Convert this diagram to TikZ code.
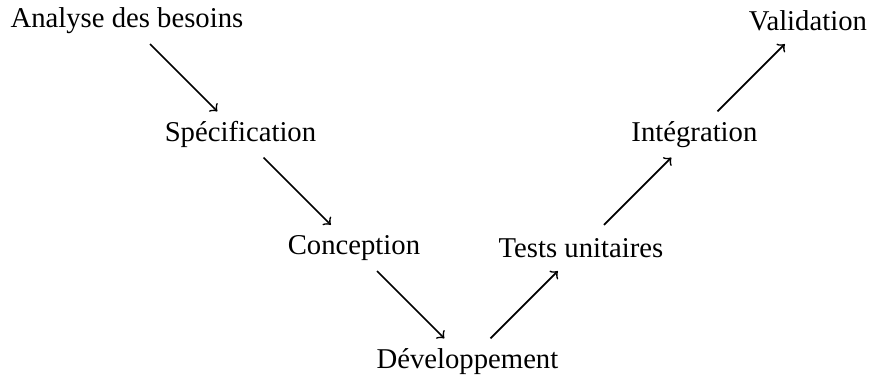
\documentclass[tikz,border=0pt]{standalone}
\usepackage{fontspec}
\setmainfont{Liberation Serif}
\usepackage{tikz}
\usetikzlibrary{arrows}

\begin{document}
\begin{tikzpicture}[fleche/.style={->, semithick, shorten <=0.4cm, shorten >=0.4cm}]
\useasboundingbox (-1.555,0.257) rectangle (9.088,-4.372);
\node (analyse) at (0,0) {Analyse des besoins};
\node (spec) at (1.39,-1.39) {Spécification};
\node (conception) at (2.78,-2.78) {Conception};
\node (dev) at (4.17,-4.17) {Développement};
\node (tests) at (5.56,-2.78) {Tests unitaires};
\node (integration) at (6.95,-1.39) {Intégration};
\node (validation) at (8.34,0) {Validation};
\draw[fleche] (analyse.center) -- (spec.center);
\draw[fleche] (spec.center) -- (conception.center);
\draw[fleche] (conception.center) -- (dev.center);
\draw[fleche] (dev.center) -- (tests.center);
\draw[fleche] (tests.center) -- (integration.center);
\draw[fleche] (integration.center) -- (validation.center);
\end{tikzpicture}
\end{document}
